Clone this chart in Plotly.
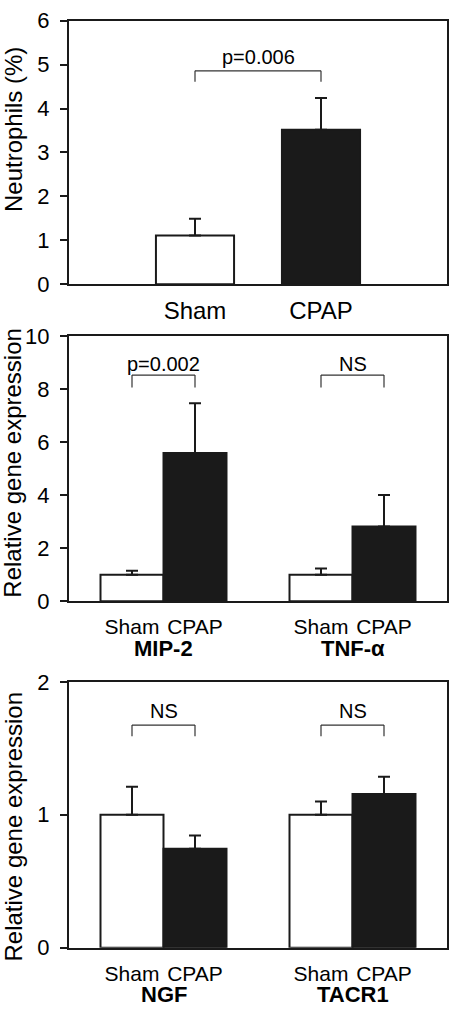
import plotly.graph_objects as go

# ---------------- data ----------------
groups1 = ["Sham", "CPAP"]
neutro_mean = [1.11, 3.52]
neutro_err = [0.38, 0.72]

genes2 = ["MIP-2", "TNF-α"]
sham2_mean = [1.0, 1.0]
sham2_err = [0.15, 0.23]
cpap2_mean = [5.59, 2.82]
cpap2_err = [1.88, 1.19]

genes3 = ["NGF", "TACR1"]
sham3_mean = [1.0, 1.0]
sham3_err = [0.21, 0.10]
cpap3_mean = [0.745, 1.156]
cpap3_err = [0.10, 0.13]

p1_label = ["p=0.006"]
p2_labels = ["p=0.002", "NS"]
p3_labels = ["NS", "NS"]

# ---------------- style ----------------
W, H = 450, 1018
FONT = "Arial, Liberation Sans, sans-serif"
INK = "#1a1a1a"
DARK = "#1a1a1a"


def py(px):
    return 1 - px / H


xdom = [69 / W, 447 / W]
dom1 = [py(279), py(9)]
dom2 = [py(604), py(332.3)]
dom3 = [py(959.3), py(686.7)]

fig = go.Figure()


def add_bar(x, y, err, fill, xa, ya, width):
    fig.add_trace(go.Bar(
        x=x, y=y, width=width, xaxis=xa, yaxis=ya,
        marker=dict(color=fill, line=dict(color=INK, width=2)),
        error_y=dict(type="data", symmetric=False, array=err,
                     arrayminus=[0] * len(err), color=INK, thickness=2, width=6),
        showlegend=False, hoverinfo="skip"))


pos1 = list(range(len(groups1)))
add_bar([pos1[0]], [neutro_mean[0]], [neutro_err[0]], "white", "x", "y", 0.62)
add_bar([pos1[1]], [neutro_mean[1]], [neutro_err[1]], DARK, "x", "y", 0.62)

sham_pos = [1 + 3 * i for i in range(len(genes2))]
cpap_pos = [p + 1 for p in sham_pos]
add_bar(sham_pos, sham2_mean, sham2_err, "white", "x2", "y2", 1)
add_bar(cpap_pos, cpap2_mean, cpap2_err, DARK, "x2", "y2", 1)
add_bar(sham_pos, sham3_mean, sham3_err, "white", "x3", "y3", 1)
add_bar(cpap_pos, cpap3_mean, cpap3_err, DARK, "x3", "y3", 1)

shapes = []
annots = []


def bracket(xa, ya, x0, x1, ytop, ybot, label, ytext):
    for (a, b, c, d) in [(x0, ybot, x0, ytop), (x0, ytop, x1, ytop), (x1, ytop, x1, ybot)]:
        shapes.append(dict(type="line", xref=xa, yref=ya, x0=a, y0=b, x1=c, y1=d,
                           line=dict(color="#333333", width=1.2)))
    annots.append(dict(x=(x0 + x1) / 2, y=ytext, xref=xa, yref=ya, text=label,
                       showarrow=False, yanchor="middle",
                       font=dict(family=FONT, size=20, color="black")))


bracket("x", "y", pos1[0], pos1[1], 4.86, 4.61, p1_label[0], 5.17)
for i in range(len(genes2)):
    bracket("x2", "y2", sham_pos[i], cpap_pos[i], 8.53, 8.06, p2_labels[i], 8.96)
    bracket("x3", "y3", sham_pos[i], cpap_pos[i], 1.675, 1.59, p3_labels[i], 1.78)

for i, g in enumerate(genes2):
    annots.append(dict(x=(sham_pos[i] + cpap_pos[i]) / 2, y=py(653), xref="x2", yref="paper",
                       text="<b>%s</b>" % g, showarrow=False, yanchor="middle",
                       font=dict(family=FONT, size=22, color="black")))
for i, g in enumerate(genes3):
    annots.append(dict(x=(sham_pos[i] + cpap_pos[i]) / 2, y=py(1007), xref="x3", yref="paper",
                       text="<b>%s</b>" % g, showarrow=False, yanchor="middle",
                       font=dict(family=FONT, size=22, color="black")))

for txt, yc in [("Neutrophils (%)", 121), ("Relative gene expression", 462),
                ("Relative gene expression", 835)]:
    annots.append(dict(x=13 / W, y=py(yc), xref="paper", yref="paper", text=txt,
                       textangle=-90, showarrow=False, xanchor="center", yanchor="middle",
                       font=dict(family=FONT, size=24, color="black")))

axis_common = dict(showline=True, mirror=True, linecolor=INK, linewidth=2,
                   showgrid=False, zeroline=False)
yaxis_common = dict(axis_common, ticks="outside", ticklen=7, tickwidth=2, tickcolor=INK,
                    ticklabelstandoff=6,
                    tickfont=dict(family=FONT, size=22, color="black"))

fig.update_layout(
    width=W, height=H, margin=dict(l=0, r=0, t=0, b=0),
    paper_bgcolor="white", plot_bgcolor="white", barmode="overlay",
    xaxis=dict(axis_common, domain=xdom, anchor="y", range=[-1, 2], ticks="",
               tickvals=pos1, ticktext=groups1, ticklabelstandoff=4,
               tickfont=dict(family=FONT, size=24, color="black")),
    yaxis=dict(yaxis_common, domain=dom1, anchor="x", range=[0, 6], dtick=1),
    xaxis2=dict(axis_common, domain=xdom, anchor="y2", range=[0, 6], ticks="",
                tickvals=sham_pos + cpap_pos, ticklabelstandoff=6,
                ticktext=["Sham"] * len(sham_pos) + ["CPAP"] * len(cpap_pos),
                tickfont=dict(family=FONT, size=21, color="black")),
    yaxis2=dict(yaxis_common, domain=dom2, anchor="x2", range=[0, 10], dtick=2),
    xaxis3=dict(axis_common, domain=xdom, anchor="y3", range=[0, 6], ticks="",
                tickvals=sham_pos + cpap_pos, ticklabelstandoff=6,
                ticktext=["Sham"] * len(sham_pos) + ["CPAP"] * len(cpap_pos),
                tickfont=dict(family=FONT, size=21, color="black")),
    yaxis3=dict(yaxis_common, domain=dom3, anchor="x3", range=[0, 2], dtick=1),
    shapes=shapes, annotations=annots,
)

fig.write_html(
    "out.html",
    config={"displayModeBar": False},
    post_script="document.body.style.margin='0';"
                "document.documentElement.style.overflow='hidden';",
)
